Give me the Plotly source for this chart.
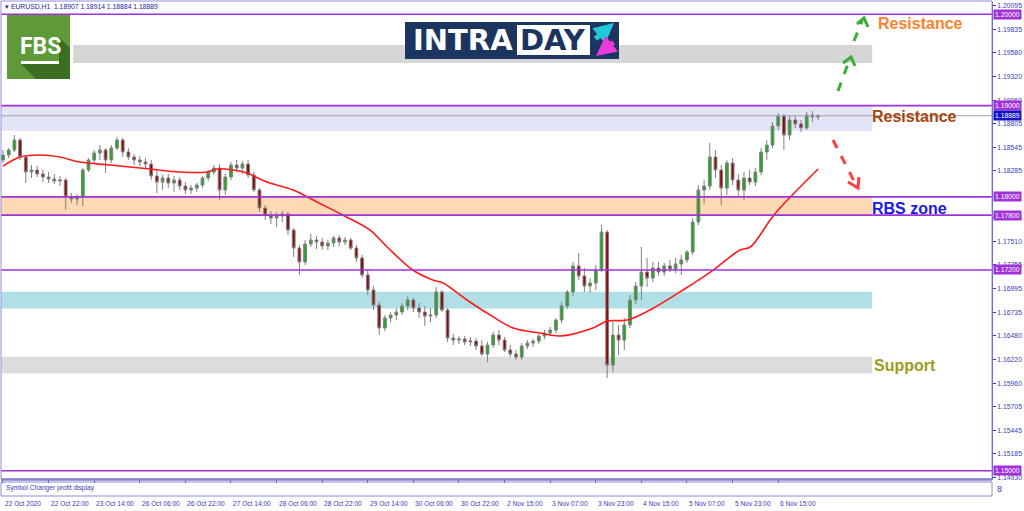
import plotly.graph_objects as go

# ---------------- data (EURUSD H1, 2-hour steps) ----------------
bar_idx = list(range(144))

opens = [1.18404, 1.18459, 1.18514, 1.18623, 1.18437, 1.18273, 1.18295, 1.18251, 1.18218, 1.18196,
         1.18174, 1.18185, 1.17999, 1.17977, 1.17999, 1.18295, 1.18404, 1.18481, 1.18514, 1.18404,
         1.18535, 1.18623, 1.18492, 1.18437, 1.18404, 1.18382, 1.18360, 1.18229, 1.18163, 1.18207,
         1.18152, 1.18185, 1.18119, 1.18076, 1.18097, 1.18130, 1.18207, 1.18273, 1.18316, 1.18076,
         1.18218, 1.18349, 1.18316, 1.18360, 1.18240, 1.18076, 1.17878, 1.17802, 1.17769, 1.17791,
         1.17813, 1.17637, 1.17440, 1.17287, 1.17484, 1.17528, 1.17506, 1.17462, 1.17495, 1.17550,
         1.17506, 1.17528, 1.17440, 1.17331, 1.17145, 1.16980, 1.16816, 1.16564, 1.16673, 1.16706,
         1.16739, 1.16805, 1.16871, 1.16783, 1.16739, 1.16695, 1.16706, 1.16958, 1.16761, 1.16454,
         1.16432, 1.16443, 1.16410, 1.16421, 1.16367, 1.16279, 1.16378, 1.16487, 1.16432, 1.16323,
         1.16279, 1.16246, 1.16367, 1.16399, 1.16421, 1.16476, 1.16509, 1.16542, 1.16651, 1.16805,
         1.16958, 1.17243, 1.17134, 1.17024, 1.17057, 1.17199, 1.17615, 1.16158, 1.16487, 1.16432,
         1.16597, 1.16871, 1.17024, 1.17177, 1.17112, 1.17221, 1.17177, 1.17243, 1.17210, 1.17265,
         1.17309, 1.17396, 1.17725, 1.18076, 1.18119, 1.18437, 1.18295, 1.18097, 1.18371, 1.18185,
         1.18076, 1.18207, 1.18163, 1.18273, 1.18492, 1.18568, 1.18777, 1.18886, 1.18678, 1.18842,
         1.18799, 1.18755, 1.18897, 1.18875]

highs = [1.18514, 1.18535, 1.18678, 1.18645, 1.18459, 1.18349, 1.18338, 1.18295, 1.18273, 1.18251,
         1.18229, 1.18207, 1.18043, 1.18032, 1.18316, 1.18426, 1.18514, 1.18568, 1.18535, 1.18568,
         1.18656, 1.18645, 1.18535, 1.18470, 1.18448, 1.18426, 1.18404, 1.18295, 1.18240, 1.18251,
         1.18229, 1.18218, 1.18163, 1.18130, 1.18152, 1.18229, 1.18295, 1.18349, 1.18360, 1.18251,
         1.18382, 1.18404, 1.18393, 1.18404, 1.18273, 1.18097, 1.17911, 1.17846, 1.17835, 1.17846,
         1.17835, 1.17659, 1.17473, 1.17528, 1.17594, 1.17572, 1.17550, 1.17528, 1.17572, 1.17583,
         1.17561, 1.17550, 1.17473, 1.17364, 1.17199, 1.17024, 1.16849, 1.16706, 1.16739, 1.16783,
         1.16838, 1.16914, 1.16892, 1.16838, 1.16805, 1.16783, 1.17013, 1.16980, 1.16783, 1.16498,
         1.16476, 1.16476, 1.16465, 1.16454, 1.16432, 1.16410, 1.16520, 1.16542, 1.16465, 1.16378,
         1.16323, 1.16399, 1.16432, 1.16443, 1.16498, 1.16542, 1.16575, 1.16673, 1.16849, 1.16980,
         1.17287, 1.17385, 1.17221, 1.17112, 1.17254, 1.17692, 1.17637, 1.16651, 1.16597, 1.16673,
         1.16925, 1.17068, 1.17451, 1.17331, 1.17287, 1.17287, 1.17276, 1.17309, 1.17331, 1.17364,
         1.17418, 1.17769, 1.18130, 1.18185, 1.18590, 1.18514, 1.18349, 1.18404, 1.18426, 1.18251,
         1.18273, 1.18295, 1.18316, 1.18535, 1.18623, 1.18820, 1.18919, 1.18908, 1.18897, 1.18886,
         1.18842, 1.18930, 1.18941, 1.18908]

lows = [1.18371, 1.18426, 1.18492, 1.18404, 1.18152, 1.18207, 1.18218, 1.18163, 1.18152, 1.18141,
        1.18119, 1.17857, 1.17933, 1.17911, 1.17900, 1.18273, 1.18371, 1.18404, 1.18262, 1.18371,
        1.18514, 1.18437, 1.18404, 1.18349, 1.18338, 1.18316, 1.18185, 1.18043, 1.18076, 1.18097,
        1.18054, 1.18076, 1.18032, 1.18032, 1.18054, 1.18097, 1.18174, 1.18240, 1.17966, 1.18021,
        1.18185, 1.18273, 1.18251, 1.18207, 1.18054, 1.17835, 1.17747, 1.17703, 1.17670, 1.17725,
        1.17583, 1.17342, 1.17145, 1.17254, 1.17451, 1.17429, 1.17418, 1.17418, 1.17451, 1.17462,
        1.17473, 1.17418, 1.17287, 1.17112, 1.16925, 1.16761, 1.16487, 1.16531, 1.16629, 1.16651,
        1.16706, 1.16761, 1.16739, 1.16673, 1.16586, 1.16629, 1.16673, 1.16739, 1.16410, 1.16378,
        1.16388, 1.16378, 1.16367, 1.16323, 1.16257, 1.16191, 1.16345, 1.16378, 1.16301, 1.16246,
        1.16213, 1.16213, 1.16334, 1.16356, 1.16388, 1.16443, 1.16476, 1.16509, 1.16618, 1.16772,
        1.16914, 1.17090, 1.16958, 1.16947, 1.16980, 1.17177, 1.16016, 1.16082, 1.16268, 1.16323,
        1.16564, 1.16827, 1.16871, 1.17013, 1.17068, 1.17134, 1.17134, 1.17177, 1.17166, 1.17145,
        1.17276, 1.17364, 1.17692, 1.17922, 1.18076, 1.18207, 1.17911, 1.18021, 1.18130, 1.18010,
        1.17966, 1.18130, 1.18119, 1.18240, 1.18404, 1.18535, 1.18733, 1.18514, 1.18623, 1.18755,
        1.18711, 1.18733, 1.18820, 1.18842]

closes = [1.18459, 1.18514, 1.18623, 1.18437, 1.18273, 1.18295, 1.18251, 1.18218, 1.18196, 1.18174,
          1.18185, 1.17999, 1.17977, 1.17999, 1.18295, 1.18404, 1.18481, 1.18514, 1.18404, 1.18535,
          1.18623, 1.18492, 1.18437, 1.18404, 1.18382, 1.18360, 1.18229, 1.18163, 1.18207, 1.18152,
          1.18185, 1.18119, 1.18076, 1.18097, 1.18130, 1.18207, 1.18273, 1.18316, 1.18076, 1.18218,
          1.18349, 1.18316, 1.18360, 1.18240, 1.18076, 1.17878, 1.17802, 1.17769, 1.17791, 1.17813,
          1.17637, 1.17440, 1.17287, 1.17484, 1.17528, 1.17506, 1.17462, 1.17495, 1.17550, 1.17506,
          1.17528, 1.17440, 1.17331, 1.17145, 1.16980, 1.16816, 1.16564, 1.16673, 1.16706, 1.16739,
          1.16805, 1.16871, 1.16783, 1.16739, 1.16695, 1.16706, 1.16958, 1.16761, 1.16454, 1.16432,
          1.16443, 1.16410, 1.16421, 1.16367, 1.16279, 1.16378, 1.16487, 1.16432, 1.16323, 1.16279,
          1.16246, 1.16367, 1.16399, 1.16421, 1.16476, 1.16509, 1.16542, 1.16651, 1.16805, 1.16958,
          1.17243, 1.17134, 1.17024, 1.17057, 1.17199, 1.17615, 1.16158, 1.16487, 1.16432, 1.16597,
          1.16871, 1.17024, 1.17177, 1.17112, 1.17221, 1.17177, 1.17243, 1.17210, 1.17265, 1.17309,
          1.17396, 1.17725, 1.18076, 1.18119, 1.18437, 1.18295, 1.18097, 1.18371, 1.18185, 1.18076,
          1.18207, 1.18163, 1.18273, 1.18492, 1.18568, 1.18777, 1.18886, 1.18678, 1.18842, 1.18799,
          1.18755, 1.18897, 1.18875, 1.18889]

# moving average (red line)
ma_idx = [0, 3.0, 6.5, 10.0, 13.5, 18.8, 25.8, 31.0, 35.8, 37.5, 40.4, 42.8, 46.3, 50.9, 55.1,
          59.6, 64.4, 67.4, 71.9, 75.4, 77.2, 81.4, 84.9, 89.5, 94.2, 97.7, 103.5, 106.0, 109.5,
          113.5, 119.3, 124.6, 129.3, 131.1, 134.6, 136.3, 143.0]
ma_val = [1.18338, 1.18437, 1.18459, 1.18437, 1.18382, 1.18349, 1.18306, 1.18273, 1.18273, 1.18306,
          1.18295, 1.18262, 1.18163, 1.18076, 1.17944, 1.17802, 1.17637, 1.17451, 1.17199, 1.17090,
          1.17057, 1.16871, 1.16728, 1.16564, 1.16509, 1.16476, 1.16564, 1.16640, 1.16651, 1.16761,
          1.16980, 1.17199, 1.17418, 1.17451, 1.17747, 1.17878, 1.18306]

x_tick_idx = [0, 8, 16, 24, 32, 40, 48, 56, 64, 72, 80, 88, 96, 104, 112, 120, 128, 136]
x_tick_labels = ["22 Oct 2020", "22 Oct 22:00", "23 Oct 14:00", "26 Oct 06:00", "26 Oct 22:00",
                 "27 Oct 14:00", "28 Oct 06:00", "28 Oct 22:00", "29 Oct 14:00", "30 Oct 06:00",
                 "30 Oct 22:00", "2 Nov 15:00", "3 Nov 07:00", "3 Nov 23:00", "4 Nov 15:00",
                 "5 Nov 07:00", "5 Nov 23:00", "6 Nov 15:00"]

y_tick_vals = [1.20095, 1.19835, 1.19580, 1.19320, 1.19060, 1.18805, 1.18545, 1.18285,
               1.17770, 1.17510, 1.17255, 1.16995, 1.16735, 1.16480, 1.16220, 1.15960, 1.15705,
               1.15445, 1.15185, 1.14930]

level_lines = [1.20000, 1.19000, 1.18000, 1.17800, 1.17200, 1.15000]
last_price = 1.18889
header_text = "EURUSD,H1  1.18907 1.18914 1.18884 1.18889"

# zones: (price top, price bottom, start bar, end bar, colour)
zone_tops = [1.19664, 1.19000, 1.18000, 1.16962, 1.16250]
zone_bottoms = [1.19467, 1.18722, 1.17800, 1.16779, 1.16067]
zone_x0 = [12.3, -1.0, -1.0, -1.0, -1.0]
zone_x1 = [152.5, 152.5, 152.5, 152.5, 152.5]
zone_colors = ["#d6d6d6", "#e4e4f8", "#fdd9b5", "#b0e0e6", "#dcdcdc"]

# ---------------- geometry helpers (pixel -> paper) ----------------
W, H = 1024, 511
ML, MR, MT, MB = 1, 32, 2, 14
PW, PH = W - ML - MR, H - MT - MB


def px(x):
    return (x - ML) / PW


def py(y):
    return (H - MB - y) / PH


Y_TOP, Y_BOT = 1.20135, 1.14910
AXC = "#3a3ab8"
PURPLE = "#a030d8"
SMALL = dict(family="Liberation Sans", size=6.6, color=AXC)

fig = go.Figure()

fig.add_trace(go.Candlestick(
    x=bar_idx, open=opens, high=highs, low=lows, close=closes,
    increasing=dict(line=dict(color="#808080", width=1), fillcolor="#21a821"),
    decreasing=dict(line=dict(color="#808080", width=1), fillcolor="#8b0a0a"),
    whiskerwidth=0, showlegend=False, hoverinfo="skip", xaxis="x", yaxis="y"))

fig.add_trace(go.Scatter(
    x=ma_idx, y=ma_val, mode="lines", line=dict(color="#ff1a1a", width=1.6, shape="spline"),
    showlegend=False, hoverinfo="skip", xaxis="x", yaxis="y"))

shapes = []
# zones (background)
for t, b, x0, x1, c in zip(zone_tops, zone_bottoms, zone_x0, zone_x1, zone_colors):
    shapes.append(dict(type="rect", xref="x", yref="y", x0=x0, x1=x1, y0=b, y1=t,
                       fillcolor=c, line=dict(width=0), layer="below"))
# current price line
shapes.append(dict(type="line", xref="paper", yref="y", x0=0, x1=1, y0=last_price, y1=last_price,
                   line=dict(color="#a0a0a0", width=1)))
# horizontal levels
for lv in level_lines:
    shapes.append(dict(type="line", xref="paper", yref="y", x0=0, x1=1, y0=lv, y1=lv,
                       line=dict(color=PURPLE, width=1.6)))

# window borders
shapes.append(dict(type="rect", xref="paper", yref="paper", x0=0, x1=1, y0=py(479), y1=py(1),
                   line=dict(color="#9090d8", width=1)))
shapes.append(dict(type="line", xref="paper", yref="paper", x0=0, x1=1, y0=py(479.5), y1=py(479.5),
                   line=dict(color="#8484cc", width=2.5)))
shapes.append(dict(type="rect", xref="paper", yref="paper", x0=0, x1=1, y0=py(496), y1=py(482),
                   line=dict(color="#8c8cd4", width=1)))

# FBS logo
shapes.append(dict(type="rect", xref="paper", yref="paper", x0=px(7), x1=px(70), y0=py(79), y1=py(15),
                   fillcolor="#5e9b38", line=dict(width=0)))
shade = [(59, 37), (70, 48), (70, 79), (36, 79), (21, 64), (59, 64)]
shapes.append(dict(type="path", xref="paper", yref="paper",
                   path="M " + " L ".join(f"{px(a)},{py(b)}" for a, b in shade) + " Z",
                   fillcolor="#3c6e22", line=dict(width=0)))
shapes.append(dict(type="rect", xref="paper", yref="paper", x0=px(21), x1=px(59), y0=py(64), y1=py(61),
                   fillcolor="white", line=dict(width=0)))

# INTRADAY banner
shapes.append(dict(type="rect", xref="paper", yref="paper", x0=px(405), x1=px(619), y0=py(59), y1=py(22),
                   fillcolor="#1b3560", line=dict(width=0)))
shapes.append(dict(type="rect", xref="paper", yref="paper", x0=px(517), x1=px(590), y0=py(55), y1=py(25),
                   fillcolor="white", line=dict(width=0)))


def dashed(x0, y0, x1, y1, color):
    shapes.append(dict(type="line", xref="paper", yref="paper", x0=px(x0), y0=py(y0), x1=px(x1), y1=py(y1),
                       line=dict(color=color, width=3, dash="dash")))


def chevron(pts, color):
    shapes.append(dict(type="path", xref="paper", yref="paper",
                       path="M " + " L ".join(f"{px(a)},{py(b)}" for a, b in pts),
                       line=dict(color=color, width=3)))


GREEN_A = "#35b035"
RED_A = "#ff4040"
dashed(838, 91, 849, 61, GREEN_A)
chevron([(843, 63), (851, 57), (855, 66)], GREEN_A)
dashed(854, 41, 862, 21, GREEN_A)
chevron([(857, 24), (864, 18), (868, 27)], GREEN_A)
dashed(833, 140, 855, 183, RED_A)
chevron([(848, 182), (858, 188), (859, 177)], RED_A)

annotations = []
# header
annotations.append(dict(xref="paper", yref="paper", x=px(3), y=py(7), xanchor="left", yanchor="middle",
                        text="▾ " + header_text, showarrow=False,
                        font=dict(family="Liberation Sans", size=6.8, color="#22229a")))
# y highlight labels
for lv in level_lines:
    annotations.append(dict(xref="paper", yref="y", x=1, y=lv, xanchor="left", yanchor="middle", xshift=1,
                            text=f"{lv:.5f}", showarrow=False, bgcolor=PURPLE, borderpad=1,
                            font=dict(family="Liberation Sans", size=6.8, color="white")))
annotations.append(dict(xref="paper", yref="y", x=1, y=last_price, xanchor="left", yanchor="middle", xshift=1,
                        text=f"{last_price:.5f}", showarrow=False, bgcolor="#1212c8", borderpad=1,
                        font=dict(family="Liberation Sans", size=6.8, color="white")))
# x tick labels (left aligned at tick, MT4 style)
for i, lab in zip(x_tick_idx, x_tick_labels):
    annotations.append(dict(xref="x", yref="paper", x=i, y=py(503), xanchor="left", yanchor="middle",
                            xshift=0, text=lab, showarrow=False, font=SMALL))
# sub-window caption
annotations.append(dict(xref="paper", yref="paper", x=px(4), y=py(488), xanchor="left", yanchor="middle",
                        text="Symbol Changer profit display", showarrow=False, font=SMALL))
annotations.append(dict(xref="paper", yref="paper", x=1, y=py(489), xanchor="left", yanchor="middle", xshift=3,
                        text="8", showarrow=False, font=dict(family="Liberation Sans", size=9, color=AXC)))
# logos text
annotations.append(dict(xref="paper", yref="paper", x=px(40), y=py(46), xanchor="center", yanchor="middle",
                        text="<b>FBS</b>", showarrow=False,
                        font=dict(family="Roboto", size=23, color="white")))
annotations.append(dict(xref="paper", yref="paper", x=px(463), y=py(40.5), xanchor="center", yanchor="middle",
                        text="<b>INTRA</b>", showarrow=False,
                        font=dict(family="DejaVu Sans", size=29, color="white")))
annotations.append(dict(xref="paper", yref="paper", x=px(553), y=py(40.5), xanchor="center", yanchor="middle",
                        text="<b>DAY</b>", showarrow=False,
                        font=dict(family="DejaVu Sans", size=29, color="#1b3560")))
annotations.append(dict(xref="paper", yref="paper", x=px(614), y=py(23), ax=-20, ay=17, text="",
                        showarrow=True, arrowhead=2, arrowsize=0.8, arrowwidth=5, arrowcolor="#22c8d8"))
annotations.append(dict(xref="paper", yref="paper", x=px(596), y=py(56), ax=19, ay=-15, text="",
                        showarrow=True, arrowhead=2, arrowsize=0.8, arrowwidth=5, arrowcolor="#ea3adb"))
# chart labels
for txt, xc, yc, col, sz in [("Resistance", 920, 24, "#ff7f2a", 16),
                             ("Resistance", 914, 116, "#a8440f", 16),
                             ("RBS zone", 909, 208, "#1a1ae8", 16),
                             ("Support", 905, 365, "#9c9c18", 16)]:
    annotations.append(dict(xref="paper", yref="paper", x=px(xc), y=py(yc), xanchor="center", yanchor="middle",
                            text=f"<b>{txt}</b>", showarrow=False,
                            font=dict(family="Liberation Sans", size=sz, color=col)))

fig.update_layout(
    width=W, height=H, margin=dict(l=ML, r=MR, t=MT, b=MB, autoexpand=False),
    paper_bgcolor="white", plot_bgcolor="white", showlegend=False,
    shapes=shapes, annotations=annotations,
    xaxis=dict(anchor="y2", range=[-0.35, 173.51], tickvals=x_tick_idx, showticklabels=False,
               ticks="outside", ticklen=3, tickcolor=AXC, showline=True, linecolor="#8c8cd4",
               showgrid=False, zeroline=False, rangeslider=dict(visible=False), fixedrange=True),
    yaxis=dict(domain=[py(479), 1], anchor="x", side="right", range=[Y_BOT, Y_TOP],
               tickvals=y_tick_vals, ticktext=[f"{v:.5f}" for v in y_tick_vals],
               ticks="outside", ticklen=3, tickcolor=AXC, showline=True, linecolor="#4a4ad0",
               linewidth=1, showgrid=False, zeroline=False,
               tickfont=dict(family="Liberation Sans", size=6.8, color=AXC)),
    yaxis2=dict(domain=[py(496), py(482)], anchor="x", side="right", range=[0, 1],
                showticklabels=False, showgrid=False, zeroline=False, showline=True,
                linecolor="#4a4ad0"),
)

fig.write_html("out.html", config={"displayModeBar": False},
               post_script="document.body.style.margin='0px';")
